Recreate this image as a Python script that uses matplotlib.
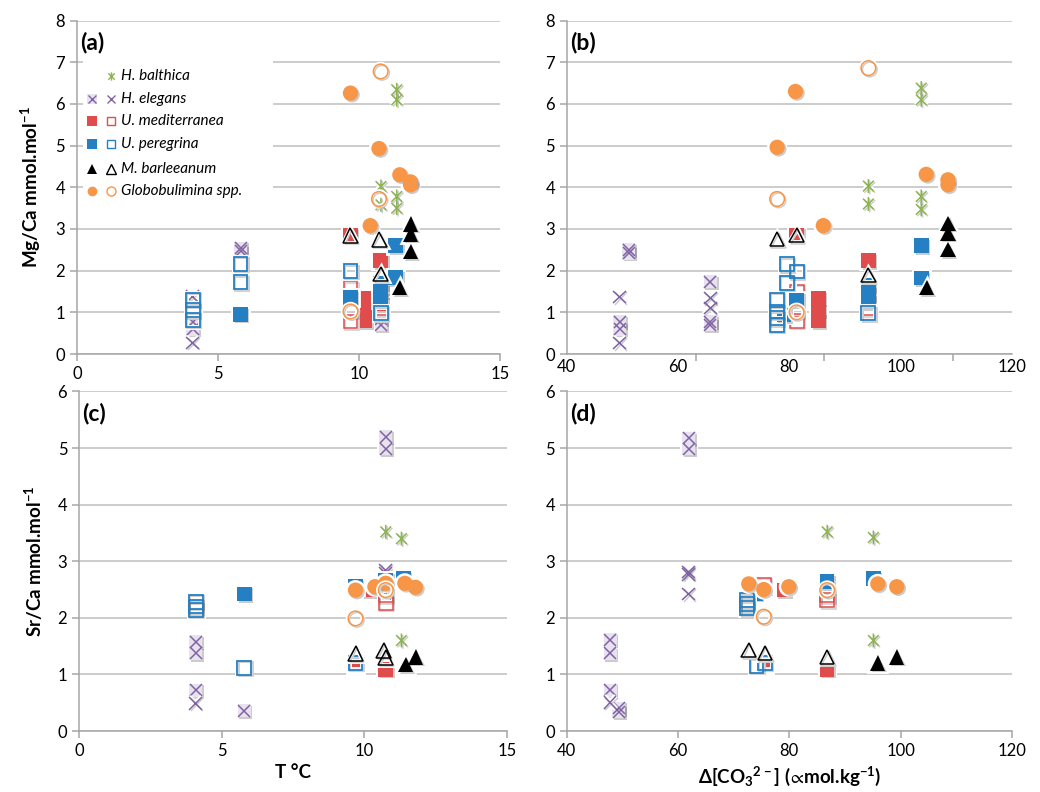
import matplotlib.pyplot as plt
import matplotlib.patheffects as pe
from matplotlib.path import Path
from matplotlib.patches import Rectangle
from matplotlib.ticker import FixedLocator

plt.rcParams['font.family'] = ['Lato', 'DejaVu Sans']
plt.rcParams['mathtext.default'] = 'regular'

# (x, y) pairs for each species; filled and open symbols kept apart
# panel (a): Mg/Ca vs T
a_balthica = [(11.34, 6.34), (11.34, 6.10), (10.78, 4.02), (10.78, 3.58), (11.34, 3.78), (11.34, 3.50)]
a_elegans = [(4.1, 0.78), (4.1, 0.60), (5.8, 2.54), (5.8, 2.46), (10.77, 1.74), (10.77, 0.84), (10.77, 0.70)]
a_elegans_o = [(4.1, 1.38), (4.1, 0.27), (10.77, 1.34), (10.77, 1.10)]
a_medit = [(9.7, 2.84), (10.77, 2.24), (10.2, 1.34), (10.2, 1.05), (10.2, 0.80), (10.77, 1.20)]
a_medit_o = [(9.7, 1.58), (9.7, 1.05), (9.7, 0.78), (10.77, 1.10), (10.77, 1.00)]
a_pereg = [(11.3, 2.60), (11.3, 1.83), (9.7, 1.36), (10.77, 1.70), (10.77, 1.50), (10.77, 1.30), (5.8, 0.95)]
a_pereg_o = [(4.1, 1.30), (4.1, 1.05), (4.1, 0.82), (5.8, 2.16), (5.8, 1.72), (9.7, 1.99), (10.77, 0.98)]
a_barl = [(11.83, 3.12), (11.83, 2.88), (11.83, 2.46), (11.45, 1.60)]
a_barl_o = [(9.7, 2.84), (10.72, 2.75), (10.77, 1.92)]
a_globo = [(9.7, 6.26), (10.71, 4.93), (11.45, 4.30), (11.83, 4.13), (11.83, 4.06), (10.4, 3.08)]
a_globo_o = [(10.77, 6.78), (10.71, 3.72), (9.7, 1.02)]

# panel (b): Mg/Ca vs carbonate ion saturation
b_balthica = [(103.7, 6.38), (103.7, 6.10), (94.2, 4.03), (94.2, 3.60), (103.7, 3.78), (103.7, 3.47)]
b_elegans = [(51.1, 2.50), (51.1, 2.42), (49.5, 0.78), (49.5, 0.60), (65.8, 1.74), (65.8, 0.78), (65.8, 0.70)]
b_elegans_o = [(49.5, 1.37), (49.5, 0.26), (65.8, 1.34), (65.8, 1.10)]
b_medit = [(81.3, 2.86), (94.2, 2.24), (85.2, 1.34), (85.2, 1.05), (85.2, 0.80), (94.2, 1.22)]
b_medit_o = [(81.3, 1.50), (81.3, 1.05), (81.3, 0.80), (94.2, 1.10), (94.2, 1.00)]
b_pereg = [(103.7, 2.60), (103.7, 1.82), (81.3, 1.30), (94.2, 1.65), (94.2, 1.45), (94.2, 1.25), (79.0, 0.94)]
b_pereg_o = [(77.7, 1.30), (77.7, 1.02), (77.7, 0.86), (77.7, 0.70), (79.5, 2.15), (79.5, 1.71), (81.3, 1.98), (94.2, 0.98)]
b_barl = [(108.5, 3.14), (108.5, 2.90), (108.5, 2.50), (104.7, 1.60)]
b_barl_o = [(81.3, 2.86), (77.8, 2.76), (94.2, 1.90)]
b_globo = [(81.1, 6.30), (77.8, 4.96), (104.6, 4.31), (108.5, 4.18), (108.5, 4.06), (86.1, 3.08)]
b_globo_o = [(94.2, 6.86), (77.8, 3.72), (81.3, 1.00)]

# panel (c): Sr/Ca vs T
c_balthica = [(10.75, 3.52), (11.3, 3.40), (11.3, 1.60)]
c_elegans = [(4.09, 1.58), (4.09, 1.37), (4.09, 0.72), (5.79, 0.36), (10.75, 5.20), (10.75, 4.99)]
c_elegans_o = [(4.09, 0.49), (10.75, 2.84), (10.75, 2.78), (10.75, 2.42)]
c_medit = [(9.69, 2.52), (10.17, 2.49), (9.69, 1.18), (10.75, 1.09)]
c_medit_o = [(9.69, 2.55), (10.75, 2.40), (10.75, 2.26), (9.69, 1.22)]
c_pereg = [(10.75, 2.67), (11.37, 2.70), (5.79, 2.42), (9.69, 2.55)]
c_pereg_o = [(4.09, 2.28), (4.09, 2.20), (4.09, 2.14), (5.79, 1.12), (9.69, 1.20)]
c_barl = [(11.45, 1.18), (11.8, 1.31)]
c_barl_o = [(9.69, 1.37), (10.68, 1.42), (10.75, 1.30)]
c_globo = [(9.69, 2.49), (10.37, 2.55), (10.75, 2.61), (11.42, 2.61), (11.79, 2.54)]
c_globo_o = [(10.75, 2.49), (9.69, 1.99)]

# panel (d): Sr/Ca vs carbonate ion saturation
d_balthica = [(86.8, 3.52), (95.1, 3.42), (95.1, 1.60)]
d_elegans = [(47.8, 1.61), (47.8, 1.37), (47.8, 0.72), (49.3, 0.40), (49.3, 0.34), (61.9, 5.17), (61.9, 4.99)]
d_elegans_o = [(47.8, 0.50), (61.9, 2.81), (61.9, 2.77), (61.9, 2.42)]
d_medit = [(75.4, 2.55), (79.0, 2.49), (86.8, 2.49), (75.6, 1.18), (86.8, 1.09)]
d_medit_o = [(75.4, 2.58), (86.8, 2.31), (86.8, 2.40), (75.6, 1.22)]
d_pereg = [(73.9, 2.43), (86.8, 2.64), (95.1, 2.70)]
d_pereg_o = [(72.4, 2.31), (72.4, 2.24), (72.4, 2.17), (74.1, 1.15), (75.6, 1.20)]
d_barl = [(95.9, 1.20), (99.3, 1.31)]
d_barl_o = [(72.7, 1.43), (75.6, 1.38), (86.8, 1.31)]
d_globo = [(72.7, 2.60), (75.4, 2.50), (79.9, 2.55), (95.9, 2.60), (99.3, 2.55)]
d_globo_o = [(86.8, 2.49), (75.4, 2.02)]

legend_labels = ['H. balthica', 'H. elegans', 'U. mediterranea', 'U. peregrina',
                 'M. barleeanum', 'Globobulimina spp.']

GREEN = '#8db452'
PURPLE = '#8064a2'
LILAC = '#e8e2f0'
RED = '#e04c4c'
BLUE = '#2480c3'
ORANGE = '#f79646'
GRID = '#bfbfbf'

# asterisk: an x with a vertical bar through it
ASTERISK = Path([(-1, -1), (1, 1), (-1, 1), (1, -1), (0, -1.3), (0, 1.3)],
                [Path.MOVETO, Path.LINETO, Path.MOVETO, Path.LINETO, Path.MOVETO, Path.LINETO])

glow = [pe.Stroke(linewidth=3.5, foreground='white'),
        pe.SimplePatchShadow(offset=(1.2, -1.2), shadow_rgbFace='k', alpha=0.2),
        pe.Normal()]
line_glow = [pe.Stroke(linewidth=4, foreground='white'),
             pe.SimpleLineShadow(offset=(1, -1), shadow_color='k', alpha=0.2),
             pe.Normal()]

# open symbols are hollow: whatever lies underneath shows through
styles = {
    'balthica': dict(marker=ASTERISK, ms=10, mew=1.1, color=GREEN),
    'elegans_bg': dict(marker='s', ms=9.5, mew=0, mfc=LILAC),
    'elegans': dict(marker='x', ms=9, mew=1.1, color=PURPLE),
    'elegans_o': dict(marker='x', ms=9, mew=1.1, color=PURPLE),
    'medit': dict(marker='s', ms=10.5, mew=0, mfc=RED),
    'medit_o': dict(marker='s', ms=10, mew=1.1, mec=RED, mfc='none'),
    'pereg': dict(marker='s', ms=10.5, mew=0, mfc=BLUE),
    'pereg_o': dict(marker='s', ms=10, mew=1.3, mec=BLUE, mfc='none'),
    'barl': dict(marker='^', ms=11, mew=0, mfc='black'),
    'barl_o': dict(marker='^', ms=10.5, mew=1.1, mec='black', mfc='none'),
    'globo': dict(marker='o', ms=11, mew=0, mfc=ORANGE),
    'globo_o': dict(marker='o', ms=10.5, mew=1.1, mec=ORANGE, mfc='none'),
}


def draw(ax, key, pts):
    xs = [p[0] for p in pts]
    ys = [p[1] for p in pts]
    st = styles[key]
    if st['marker'] in ('x', ASTERISK):
        effects = line_glow
    elif st['mfc'] == 'none':
        effects = [pe.Stroke(linewidth=3.5, foreground='white'),
                   pe.SimpleLineShadow(offset=(1, -1), shadow_color='k', alpha=0.2),
                   pe.Normal()]
    else:
        effects = glow
    ax.plot(xs, ys, ls='none', path_effects=effects, zorder=3, **st)


def panel(ax, series, xlim, ylim, letter):
    ax.set_xlim(*xlim)
    ax.set_ylim(*ylim)
    ax.yaxis.grid(True, color=GRID, lw=1.1)
    ax.set_axisbelow(True)
    for s in ('top', 'right'):
        ax.spines[s].set_visible(False)
    for s in ('left', 'bottom'):
        ax.spines[s].set_color('#a6a6a6')
        ax.spines[s].set_linewidth(1.1)
    ax.tick_params(axis='both', colors='#a6a6a6', labelcolor='black',
                   labelsize=12, length=5, width=1.1)
    bal, el, el_o, me, me_o, pg, pg_o, ba, ba_o, gl, gl_o = series
    draw(ax, 'balthica', bal)
    # filled H. elegans crosses sit on a pale square
    draw(ax, 'elegans_bg', el)
    ax.plot([p[0] for p in el], [p[1] for p in el], ls='none', zorder=3,
            **styles['elegans'])
    draw(ax, 'elegans_o', el_o)
    draw(ax, 'medit', me)
    draw(ax, 'medit_o', me_o)
    draw(ax, 'pereg', pg)
    draw(ax, 'pereg_o', pg_o)
    draw(ax, 'barl', ba)
    draw(ax, 'barl_o', ba_o)
    draw(ax, 'globo', gl)
    draw(ax, 'globo_o', gl_o)
    ax.text(0.008, 0.935, letter, transform=ax.transAxes, fontsize=16.5,
            fontweight='bold', va='center')


fig = plt.figure(figsize=(10.4, 7.92), dpi=100)
ax_a = fig.add_axes([0.074, 0.553, 0.4067, 0.421])
ax_b = fig.add_axes([0.545, 0.553, 0.428, 0.421])
ax_c = fig.add_axes([0.076, 0.077, 0.4115, 0.4287])
ax_d = fig.add_axes([0.545, 0.077, 0.428, 0.4287])

panel(ax_a, [a_balthica, a_elegans, a_elegans_o, a_medit, a_medit_o, a_pereg, a_pereg_o,
             a_barl, a_barl_o, a_globo, a_globo_o], (0, 15), (0, 8), '(a)')
panel(ax_b, [b_balthica, b_elegans, b_elegans_o, b_medit, b_medit_o, b_pereg, b_pereg_o,
             b_barl, b_barl_o, b_globo, b_globo_o], (40, 120), (0, 8), '(b)')
panel(ax_c, [c_balthica, c_elegans, c_elegans_o, c_medit, c_medit_o, c_pereg, c_pereg_o,
             c_barl, c_barl_o, c_globo, c_globo_o], (0, 15), (0, 6), '(c)')
panel(ax_d, [d_balthica, d_elegans, d_elegans_o, d_medit, d_medit_o, d_pereg, d_pereg_o,
             d_barl, d_barl_o, d_globo, d_globo_o], (40, 120), (0, 6), '(d)')

for ax in (ax_a, ax_c):
    ax.set_xticks([0, 5, 10, 15])
for ax in (ax_b, ax_d):
    ax.set_xticks([40, 60, 80, 100, 120])
# the top-right panel has its tick marks off the label positions
ax_b.tick_params(axis='x', which='major', length=0)
ax_b.xaxis.set_minor_locator(FixedLocator([40, 63.3, 86.3, 109.4]))
ax_b.tick_params(axis='x', which='minor', length=5, width=1.1, colors='#a6a6a6')

lab = dict(fontsize=13.5, fontweight='bold')
ax_a.set_ylabel('Mg/Ca mmol.mol$^{-1}$', labelpad=9, **lab)
ax_c.set_ylabel('Sr/Ca mmol.mol$^{-1}$', labelpad=9, **lab)
ax_c.set_xlabel('T °C', labelpad=4, **lab)
ax_d.set_xlabel('Δ[CO$_3{}^{2-}$] ($\\!\\propto\\!$mol.kg$^{-1}$)', labelpad=4, **lab)

# legend block in panel (a)
ax_a.add_patch(Rectangle((0.014, 0.447), 0.449, 0.435, transform=ax_a.transAxes,
                         facecolor='white', edgecolor='none', zorder=4))
rows_y = [0.834, 0.765, 0.699, 0.630, 0.555, 0.489]
col1, col2 = 0.0355, 0.0797
legend_marks = [
    (None, dict(marker=ASTERISK, ms=6, mew=1, color=GREEN)),
    (dict(marker='x', ms=6, mew=1, color=PURPLE), dict(marker='x', ms=6, mew=1, color=PURPLE)),
    (dict(marker='s', ms=6.5, mew=0, mfc=RED), dict(marker='s', ms=6, mew=1, mec=RED, mfc='none')),
    (dict(marker='s', ms=6.5, mew=0, mfc=BLUE), dict(marker='s', ms=6, mew=1, mec=BLUE, mfc='none')),
    (dict(marker='^', ms=7, mew=0, mfc='black'), dict(marker='^', ms=6.5, mew=1, mec='black', mfc='none')),
    (dict(marker='o', ms=7, mew=0, mfc=ORANGE), dict(marker='o', ms=6.5, mew=1, mec=ORANGE, mfc='none')),
]
for i, (y, (m1, m2), label) in enumerate(zip(rows_y, legend_marks, legend_labels)):
    if i == 1:
        ax_a.plot([col1], [y], ls='none', marker='s', ms=6.5, mew=0, mfc=LILAC,
                  transform=ax_a.transAxes, zorder=5)
    if m1 is not None:
        ax_a.plot([col1], [y], ls='none', transform=ax_a.transAxes, zorder=5, **m1)
    ax_a.plot([col2], [y], ls='none', transform=ax_a.transAxes, zorder=5, **m2)
    ax_a.text(0.104, y, label, transform=ax_a.transAxes, fontsize=11, style='italic',
              va='center', zorder=5)

fig.savefig('out.png', dpi=100, facecolor='white')
